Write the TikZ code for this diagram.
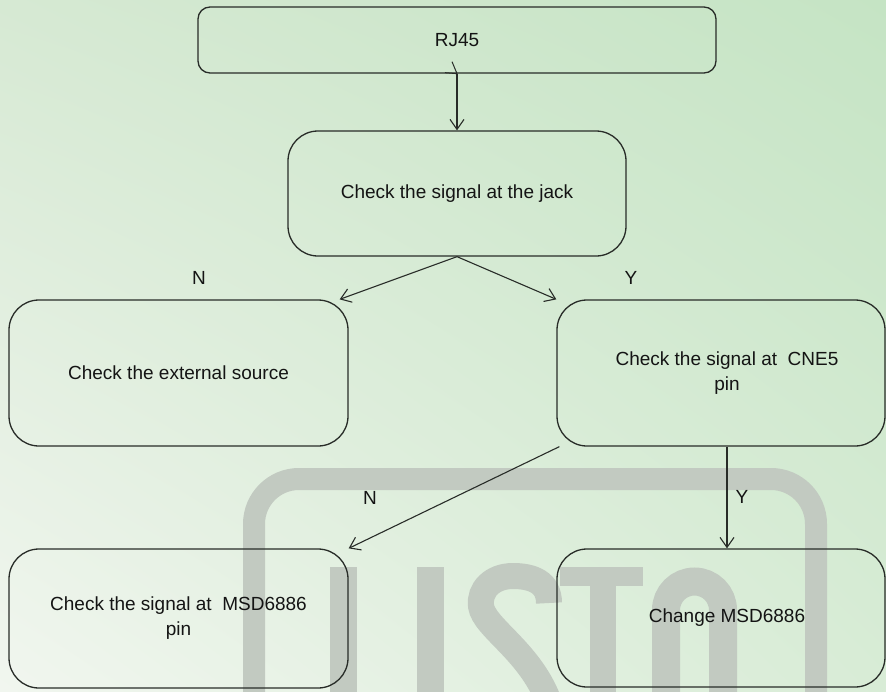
\documentclass[tikz,border=0pt]{standalone}
\usepackage{fontspec}
\setmainfont{Liberation Sans}
\usetikzlibrary{arrows.meta,calc,shadings}
\definecolor{wm}{RGB}{194,202,193}
\definecolor{bgul}{RGB}{214,233,211}
\definecolor{bgur}{RGB}{197,228,196}
\definecolor{bgll}{RGB}{241,246,239}
\definecolor{bglr}{RGB}{216,236,214}
\definecolor{edge}{RGB}{40,44,40}
\definecolor{ink}{RGB}{20,20,20}
\begin{document}
\begin{tikzpicture}[x=1pt,y=-1pt,
  box/.style={draw=edge, line width=1.3pt, rounded corners=#1, align=center,
    text=ink, font=\fontsize{19}{25}\selectfont, inner sep=0pt},
  conn/.style={draw=edge, line width=1.1pt, -{Straight Barb[length=10pt,width=14pt]}},
  lbl/.style={text=ink, font=\fontsize{19}{25}\selectfont, inner sep=0pt}]
\useasboundingbox (0pt,0pt) rectangle (886pt,-691pt);
\begin{scope}
\clip (0pt,0pt) rectangle (886pt,-691pt);
\shade[upper left=bgul, upper right=bgur, lower left=bgll, lower right=bglr]
  (0pt,0pt) rectangle (886pt,-691pt);
% watermark
\draw[wm, line width=22pt, rounded corners=45pt] (254,760) -- (254,479) -- (816,479) -- (816,760);
\fill[wm] (330,567) rectangle (357,700);
\fill[wm] (417,567) rectangle (444,700);
\draw[wm, line width=26pt] (549,603) .. controls (549,582) and (532,576) .. (513,576)
  .. controls (492,576) and (479,590) .. (481,606)
  .. controls (484,628) and (532,652) .. (550,705);
\fill[wm] (560,567) rectangle (643,586);
\fill[wm] (590,567) rectangle (616,700);
\draw[wm, line width=28pt] (666,700) -- (666,610) arc[start angle=180, end angle=360, radius=28.5] -- (723,700);
\end{scope}
% nodes
\node[box=12pt, minimum width=518pt, minimum height=66pt] (rj) at (457,40) {RJ45};
\node[box=30pt, minimum width=338pt, minimum height=125pt] (jack) at (457,193.5) {Check the signal at the jack};
\node[box=30pt, minimum width=339pt, minimum height=146pt] (ext) at (178.5,373) {Check the external source};
\node[box=30pt, minimum width=328pt, minimum height=146pt] (cne) at (721,373) {\hspace*{12pt}Check the signal at\ \ CNE5\\\hspace*{12pt}pin};
\node[box=30pt, minimum width=339pt, minimum height=139pt] (msd) at (178.5,618.5) {Check the signal at\ \ MSD6886\\pin};
\node[box=30pt, minimum width=328pt, minimum height=138pt] (chg) at (721,618) {\hspace*{12pt}Change MSD6886};
% labels
\node[lbl] (n1) at (199,278) {N};
\node[lbl] (y1) at (631,278) {Y};
\node[lbl] (n2) at (370,498) {N};
\node[lbl] (y2) at (742,497) {Y};
% connectors
\draw[conn] (rj.south) -- (jack.north);
\draw[edge, line width=1pt] ($(rj.south)+(-5,-12)$) -- (rj.south) -- ++(-12,-1);
\draw[conn] (jack.south) -- ($(ext.north east)+(-9,0)$);
\draw[conn] (jack.south) -- (cne.north west);
\draw[conn] ($(cne.south west)+(3,0)$) -- (msd.north east);
\draw[conn] ($(cne.south)+(6,0)$) -- ($(chg.north)+(6,0)$);
\end{tikzpicture}
\end{document}
